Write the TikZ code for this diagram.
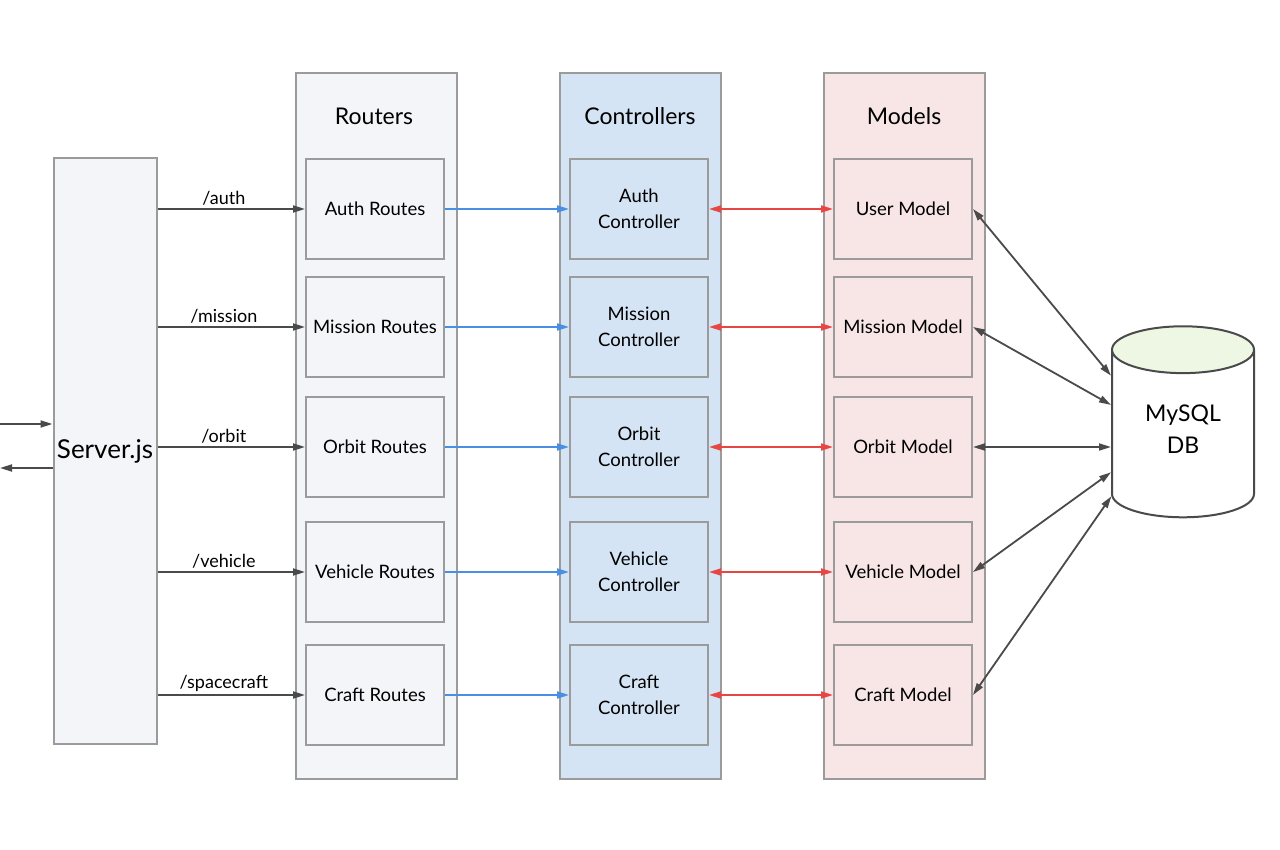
\documentclass[tikz,border=0pt]{standalone}
\usepackage{fontspec}
\setmainfont{Lato}
\usetikzlibrary{arrows.meta,shapes.geometric}
\definecolor{boxline}{HTML}{9B9B9B}
\definecolor{arrowgray}{HTML}{4A4A4A}
\definecolor{routefill}{HTML}{F4F5F9}
\definecolor{ctrlfill}{HTML}{D4E4F5}
\definecolor{modelfill}{HTML}{F7E6E5}
\definecolor{dbtop}{HTML}{EEF7E4}
\definecolor{ctrlarrow}{HTML}{4A90E2}
\definecolor{modelarrow}{HTML}{E84545}
\tikzset{
 >/.tip={Triangle[length=12pt,width=7pt]},
 layer/.style={draw=boxline, line width=2pt, minimum width=161pt, minimum height=705pt, inner sep=0pt},
 item/.style={draw=boxline, line width=2pt, minimum width=138pt, minimum height=100pt, inner sep=0pt,
   align=center, font=\fontsize{18.5}{26}\selectfont},
 title/.style={font=\fontsize{23}{26}\selectfont},
 call/.style={->, arrowgray, line width=1.8pt},
 routelabel/.style={font=\fontsize{18}{20}\selectfont, text=black, above, inner sep=3pt, pos=0.45}
}

\begin{document}
\begin{tikzpicture}[x=1pt, y=-1pt]
 \useasboundingbox (0,0) rectangle (1280,850);

 % server
 \node[draw=boxline, line width=2pt, fill=routefill, minimum width=103pt, minimum height=585pt,
   font=\fontsize{26}{28}\selectfont] (server) at (105,451) {Server.js};

 % columns
 \node[layer, fill=routefill] (routers) at (376,426) {};
 \node[layer, fill=ctrlfill]  (controllers) at (640,426) {};
 \node[layer, fill=modelfill] (models) at (904,426) {};
 \node[title] (routerstitle) at (374,116) {Routers};
 \node[title] (ctrltitle)    at (640,116) {Controllers};
 \node[title] (modeltitle)   at (904,116) {Models};

 \node[item, fill=routefill] (authr)    at (375,209) {Auth Routes};
 \node[item, fill=routefill] (missionr) at (375,327) {Mission Routes};
 \node[item, fill=routefill] (orbitr)   at (375,447) {Orbit Routes};
 \node[item, fill=routefill] (vehicler) at (375,572) {Vehicle Routes};
 \node[item, fill=routefill] (craftr)   at (375,695) {Craft Routes};

 \node[item, fill=ctrlfill] (authc)    at (639,209) {Auth\\Controller};
 \node[item, fill=ctrlfill] (missionc) at (639,327) {Mission\\Controller};
 \node[item, fill=ctrlfill] (orbitc)   at (639,447) {Orbit\\Controller};
 \node[item, fill=ctrlfill] (vehiclec) at (639,572) {Vehicle\\Controller};
 \node[item, fill=ctrlfill] (craftc)   at (639,695) {Craft\\Controller};

 \node[item, fill=modelfill] (userm)    at (903,209) {User Model};
 \node[item, fill=modelfill] (missionm) at (903,327) {Mission Model};
 \node[item, fill=modelfill] (orbitm)   at (903,447) {Orbit Model};
 \node[item, fill=modelfill] (vehiclem) at (903,572) {Vehicle Model};
 \node[item, fill=modelfill] (craftm)   at (903,695) {Craft Model};

 % database
 \node[cylinder, shape border rotate=90, aspect=0.62, draw=arrowgray, line width=2pt,
   cylinder uses custom fill, cylinder body fill=white, cylinder end fill=dbtop,
   minimum width=142pt, minimum height=191pt, inner sep=0pt, align=center,
   font=\fontsize{23}{32}\selectfont] (db) at (1183,434) {MySQL\\DB\\[-22pt]{}};

 % client side
 \coordinate (clientin)  at (0,424);
 \coordinate (clientout) at (0,468);
 \draw[call] (clientin) -- (clientin -| server.west);
 \draw[call] (clientout -| server.west) -- (clientout);

 % server to routers
 \draw[call] (server.east |- authr.west) -- node[routelabel] {/auth} (authr.west);
 \draw[call] (server.east |- missionr.west) -- node[routelabel] {/mission} (missionr.west);
 \draw[call] (server.east |- orbitr.west) -- node[routelabel] {/orbit} (orbitr.west);
 \draw[call] (server.east |- vehicler.west) -- node[routelabel] {/vehicle} (vehicler.west);
 \draw[call] (server.east |- craftr.west) -- node[routelabel] {/spacecraft} (craftr.west);

 % routers to controllers
 \draw[->, ctrlarrow, line width=1.8pt] (authr) -- (authc);
 \draw[->, ctrlarrow, line width=1.8pt] (missionr) -- (missionc);
 \draw[->, ctrlarrow, line width=1.8pt] (orbitr) -- (orbitc);
 \draw[->, ctrlarrow, line width=1.8pt] (vehicler) -- (vehiclec);
 \draw[->, ctrlarrow, line width=1.8pt] (craftr) -- (craftc);

 % controllers to models
 \draw[<->, modelarrow, line width=1.8pt] (authc) -- (userm);
 \draw[<->, modelarrow, line width=1.8pt] (missionc) -- (missionm);
 \draw[<->, modelarrow, line width=1.8pt] (orbitc) -- (orbitm);
 \draw[<->, modelarrow, line width=1.8pt] (vehiclec) -- (vehiclem);
 \draw[<->, modelarrow, line width=1.8pt] (craftc) -- (craftm);

 % models to db
 \draw[<->, arrowgray, line width=1.8pt] (userm.east) -- (db.141);
 \draw[<->, arrowgray, line width=1.8pt] (missionm.east) -- (db.158);
 \draw[<->, arrowgray, line width=1.8pt] (orbitm.east) -- (orbitm.east -| db.west);
 \draw[<->, arrowgray, line width=1.8pt] (vehiclem.east) -- (db.208);
 \draw[<->, arrowgray, line width=1.8pt] (craftm.east) -- (db.221);
\end{tikzpicture}
\end{document}
